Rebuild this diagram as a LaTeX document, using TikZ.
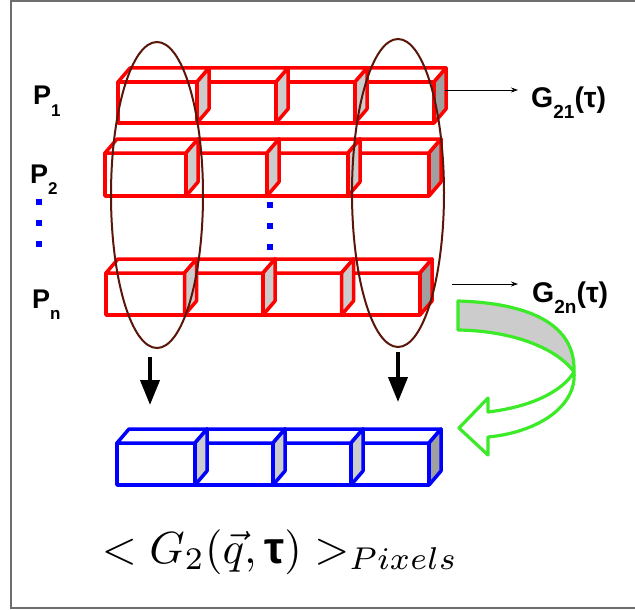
\documentclass[tikz,border=0pt]{standalone}
\usepackage[no-math]{fontspec}
\setmainfont{Liberation Sans}
\usepackage{amsmath}
\usepackage{graphicx}
\usetikzlibrary{positioning,arrows.meta,shapes.geometric}
\definecolor{sidelight}{RGB}{204,204,204}
\definecolor{sidedark}{RGB}{160,160,160}
\definecolor{ellbrown}{RGB}{90,22,8}
\definecolor{lime}{RGB}{60,235,40}
\definecolor{framegray}{RGB}{110,110,110}
\newcommand{\lsub}[1]{\raisebox{-0.42em}{\fontsize{17}{17}\selectfont #1}}
\newcommand{\gsub}[1]{\raisebox{-0.42em}{\fontsize{19}{19}\selectfont #1}}
% one row of four pixel cubes: x, y of front top, width, height, style
\newcommand{\cuberow}[5]{%
  \foreach \i/\sc in {3/sidedark,2/sidelight,1/sidelight,0/sidelight}{
    \pgfmathsetmacro{\xl}{#1+\i*#3}
    \pgfmathsetmacro{\xr}{\xl+#3}
    \filldraw[#5,fill=white] (\xl,#2) rectangle (\xr,#2+#4);
    \filldraw[#5,fill=white] (\xl,#2) -- (\xl+12,#2-14) -- (\xr+12,#2-14) -- (\xr,#2) -- cycle;
    \filldraw[#5,fill=\sc] (\xr,#2) -- (\xr+12,#2-14) -- (\xr+12,#2+#4-14) -- (\xr,#2+#4) -- cycle;
  }}
\tikzset{
  rowbox/.style={line width=3.5pt,line join=round},
  redrow/.style={rowbox,draw=red},
  bluerow/.style={rowbox,draw=blue},
  group/.style={ellipse,draw=ellbrown,line width=2pt,inner sep=0pt},
  plabel/.style={anchor=base west,inner sep=0pt,font=\fontsize{27}{27}\selectfont\bfseries},
  glabel/.style={plabel,font=\fontsize{28.5}{28.5}\selectfont\bfseries},
  vdot/.style={fill=blue,minimum size=5.5pt,inner sep=0pt},
  thinarrow/.style={-{Stealth[length=7pt,width=5pt]},line width=0.8pt},
  downarrow/.style={-{Triangle[length=25pt,width=19pt]},line width=4pt},
  greenarrow/.style={draw=lime,line width=3.2pt,line join=round},
}
\begin{document}
\begin{tikzpicture}[x=1pt,y=-1pt]
  \useasboundingbox (0,0) rectangle (635,610);
  % frame
  \draw[framegray,line width=2pt] (636,1) -- (11,1) -- (11,608) -- (636,608);
  % pixel rows
  \cuberow{118}{82}{79}{41}{redrow}
  \cuberow{105}{153}{81}{43}{redrow}
  \cuberow{106}{273}{78.5}{42}{redrow}
  \cuberow{117}{443}{78}{42}{bluerow}
  % row labels
  \node[plabel] (p1) at (33,105) {P\lsub{1}};
  \node[plabel] (p2) at (30,183) {P\lsub{2}};
  \node[plabel] (pn) at (32,308) {P\lsub{n}};
  \foreach \j/\y in {1/202,2/223,3/244}{
    \node[vdot] (ld\j) at (39,\y) {};
  }
  \foreach \j/\y in {1/205,2/226,3/247}{
    \node[vdot] (md\j) at (270,\y) {};
  }
  % pixel groups
  \node[group,minimum width=92pt,minimum height=306pt] (grpA) at (157,195) {};
  \node[group,minimum width=92pt,minimum height=308pt] (grpB) at (398,193) {};
  % averaging arrows
  \coordinate (downA) at (150,357);
  \coordinate (downAend) at (150,405);
  \coordinate (downB) at (398,352);
  \coordinate (downBend) at (398,402);
  \draw[downarrow] (downA) -- (downAend);
  \draw[downarrow] (downB) -- (downBend);
  % correlation outputs
  \node[glabel] (g21) at (531,107) {G\gsub{21}(τ)};
  \node[glabel] (g2n) at (532,302) {G\gsub{2n}(τ)};
  \coordinate (r1out) at (445,90);
  \coordinate (g21in) at (518,90);
  \coordinate (rnout) at (452,284);
  \coordinate (g2nin) at (518,284);
  \draw[thinarrow] (r1out) -- (g21in);
  \draw[thinarrow] (rnout) -- (g2nin);
  % curved return arrow
  \filldraw[greenarrow,fill=sidelight] (458,301) .. controls (525,303) and (576,322) .. (574,372)
    .. controls (560,352) and (520,331) .. (458,330) -- cycle;
  \draw[greenarrow] (574,372) .. controls (577,405) and (540,432) .. (488,437)
    -- (488,455) -- (459,428) -- (488,398) -- (488,412)
    .. controls (530,407) and (562,392) .. (574,372);
  % average
  \node[anchor=base,inner sep=0pt] (avg) at (280,563)
    {\scalebox{4.5}{\fontsize{10}{10}\selectfont$<G_2(\vec{q},\text{\bfseries τ})>_{Pixels}$}};
\end{tikzpicture}
\end{document}
